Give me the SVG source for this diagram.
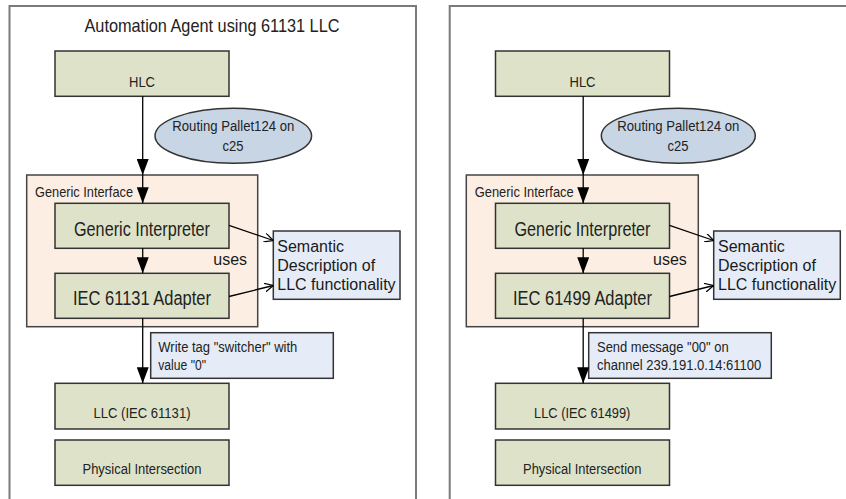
<svg xmlns="http://www.w3.org/2000/svg" width="846" height="499" viewBox="0 0 846 499">
  <style>
    .frame { fill: none; stroke: #7a7a7a; stroke-width: 2; }
    .block { fill: #dee2c9; stroke: #333; stroke-width: 1.5; }
    .iface { fill: #fdeee3; stroke: #444; stroke-width: 1.5; }
    .note { fill: #e5ecf7; stroke: #333; stroke-width: 1.5; }
    .oval { fill: #c8d5e5; stroke: #333; stroke-width: 1.5; }
    .t { font-family: "Liberation Sans", Arial, sans-serif; fill: #1a1a1a; }
    .n { font-family: "Liberation Sans", Arial, sans-serif; fill: #222; }
    .mid { text-anchor: middle; }
    .flow { fill: none; stroke: #000; stroke-width: 1.3; }
  </style>
  <defs>
    <marker id="solid" viewBox="0 0 16 12" refX="16" refY="6" markerWidth="16" markerHeight="12" markerUnits="userSpaceOnUse" orient="auto">
      <path d="M0,0 L16,6 L0,12 z" fill="#000"/>
    </marker>
    <marker id="open" viewBox="0 0 9 9" refX="9" refY="4.5" markerWidth="9" markerHeight="9" markerUnits="userSpaceOnUse" orient="auto">
      <path d="M0,0 L9,4.5 L0,9" fill="none" stroke="#000" stroke-width="1.2"/>
    </marker>
  </defs>

  <!-- panel frames -->
  <g id="frames">
    <path class="frame" d="M9.5,499 V6 H416 V499"/>
    <path class="frame" d="M449.7,499 V6 H846"/>
  </g>

  <g id="title-left">
    <text class="n mid" x="212" y="31.7" font-size="19" textLength="255" lengthAdjust="spacingAndGlyphs">Automation Agent using 61131 LLC</text>
  </g>

  <!-- left agent (61131) -->
  <g id="iface-left">
    <rect class="iface" x="26.7" y="175" width="231" height="151.7"/>
    <text class="n" x="35" y="197.3" font-size="15" textLength="98" lengthAdjust="spacingAndGlyphs">Generic Interface</text>
  </g>
  <g id="hlc-left">
    <rect class="block" x="55" y="51" width="174" height="45.3"/>
    <text class="n mid" x="142" y="86.7" font-size="15.5" textLength="26" lengthAdjust="spacingAndGlyphs">HLC</text>
  </g>
  <g id="goal-left">
    <ellipse class="oval" cx="233.3" cy="135.8" rx="78.3" ry="27.5"/>
    <text class="n mid" x="233.3" y="130.5" font-size="15.5" textLength="122" lengthAdjust="spacingAndGlyphs">Routing Pallet124 on</text>
    <text class="n mid" x="233" y="150.5" font-size="15.5" textLength="21" lengthAdjust="spacingAndGlyphs">c25</text>
  </g>
  <g id="interpreter-left">
    <rect class="block" x="55" y="203.3" width="174" height="45"/>
    <text class="n mid" x="142" y="236" font-size="19.5" textLength="136" lengthAdjust="spacingAndGlyphs">Generic Interpreter</text>
  </g>
  <g id="adapter-left">
    <rect class="block" x="55" y="273.3" width="174" height="45"/>
    <text class="n mid" x="142" y="305" font-size="19.5" textLength="138" lengthAdjust="spacingAndGlyphs">IEC 61131 Adapter</text>
  </g>
  <g id="semantic-left">
    <rect class="note" x="273.3" y="231" width="126.7" height="68.3"/>
    <text class="t" x="277.3" y="252" font-size="16">Semantic</text>
    <text class="t" x="277.3" y="271" font-size="16">Description of</text>
    <text class="t" x="277.3" y="289.5" font-size="16">LLC functionality</text>
  </g>
  <g id="uses-left">
    <text class="t" x="213.3" y="265" font-size="16">uses</text>
  </g>
  <g id="command-left">
    <rect class="note" x="150.7" y="332.7" width="182.6" height="45.6"/>
    <text class="n" x="158.3" y="351.5" font-size="15.5" textLength="139" lengthAdjust="spacingAndGlyphs">Write tag "switcher" with</text>
    <text class="n" x="158.3" y="370" font-size="15.5" textLength="47.7" lengthAdjust="spacingAndGlyphs">value "0"</text>
  </g>
  <g id="llc-left">
    <rect class="block" x="55" y="383.3" width="174" height="45.7"/>
    <text class="n mid" x="142" y="418" font-size="15.5" textLength="97" lengthAdjust="spacingAndGlyphs">LLC (IEC 61131)</text>
  </g>
  <g id="physical-left">
    <rect class="block" x="55" y="440" width="174" height="45.3"/>
    <text class="n mid" x="142" y="473.5" font-size="15.5" textLength="119" lengthAdjust="spacingAndGlyphs">Physical Intersection</text>
  </g>

  <!-- right agent (61499) -->
  <g id="iface-right">
    <rect class="iface" x="466.3" y="175" width="232" height="151.7"/>
    <text class="n" x="474.7" y="197.3" font-size="15" textLength="99" lengthAdjust="spacingAndGlyphs">Generic Interface</text>
  </g>
  <g id="hlc-right">
    <rect class="block" x="495.5" y="51" width="174" height="45.3"/>
    <text class="n mid" x="582.5" y="86.7" font-size="15.5" textLength="26" lengthAdjust="spacingAndGlyphs">HLC</text>
  </g>
  <g id="goal-right">
    <ellipse class="oval" cx="678.3" cy="135.8" rx="77" ry="27.5"/>
    <text class="n mid" x="678.3" y="130.5" font-size="15.5" textLength="122" lengthAdjust="spacingAndGlyphs">Routing Pallet124 on</text>
    <text class="n mid" x="678" y="150.5" font-size="15.5" textLength="21" lengthAdjust="spacingAndGlyphs">c25</text>
  </g>
  <g id="interpreter-right">
    <rect class="block" x="495.5" y="203.3" width="174" height="45"/>
    <text class="n mid" x="582.5" y="236" font-size="19.5" textLength="136" lengthAdjust="spacingAndGlyphs">Generic Interpreter</text>
  </g>
  <g id="adapter-right">
    <rect class="block" x="495.5" y="273.3" width="174" height="45"/>
    <text class="n mid" x="582.5" y="305" font-size="19.5" textLength="139" lengthAdjust="spacingAndGlyphs">IEC 61499 Adapter</text>
  </g>
  <g id="semantic-right">
    <rect class="note" x="713.7" y="231" width="126.6" height="68.3"/>
    <text class="t" x="718" y="252" font-size="16">Semantic</text>
    <text class="t" x="718" y="271" font-size="16">Description of</text>
    <text class="t" x="718" y="289.5" font-size="16">LLC functionality</text>
  </g>
  <g id="uses-right">
    <text class="t" x="653" y="265" font-size="16">uses</text>
  </g>
  <g id="command-right">
    <rect class="note" x="588.7" y="332.7" width="182.6" height="45.6"/>
    <text class="n" x="597" y="351.5" font-size="15.5" textLength="131.7" lengthAdjust="spacingAndGlyphs">Send message "00" on</text>
    <text class="n" x="597" y="370" font-size="15.5" textLength="164.3" lengthAdjust="spacingAndGlyphs">channel 239.191.0.14:61100</text>
  </g>
  <g id="llc-right">
    <rect class="block" x="495.5" y="383.3" width="174" height="45.7"/>
    <text class="n mid" x="582.2" y="418" font-size="15.5" textLength="96.3" lengthAdjust="spacingAndGlyphs">LLC (IEC 61499)</text>
  </g>
  <g id="physical-right">
    <rect class="block" x="495.5" y="440" width="174" height="45.3"/>
    <text class="n mid" x="582.2" y="473.5" font-size="15.5" textLength="118.3" lengthAdjust="spacingAndGlyphs">Physical Intersection</text>
  </g>

  <!-- connectors -->
  <g id="connectors">
    <line class="flow" x1="142.7" y1="96.3" x2="142.7" y2="175" marker-end="url(#solid)"/>
    <line class="flow" x1="142.7" y1="175" x2="142.7" y2="203.3" marker-end="url(#solid)"/>
    <line class="flow" x1="142.7" y1="248.3" x2="142.7" y2="273.3" marker-end="url(#solid)"/>
    <line class="flow" x1="142.7" y1="318.3" x2="142.7" y2="383.3" marker-end="url(#solid)"/>
    <line class="flow" x1="229" y1="225.3" x2="273.3" y2="240.5" marker-end="url(#open)"/>
    <line class="flow" x1="229" y1="296.5" x2="273.3" y2="285.5" marker-end="url(#open)"/>

    <line class="flow" x1="583.2" y1="96.3" x2="583.2" y2="175" marker-end="url(#solid)"/>
    <line class="flow" x1="583.2" y1="175" x2="583.2" y2="203.3" marker-end="url(#solid)"/>
    <line class="flow" x1="583.2" y1="248.3" x2="583.2" y2="273.3" marker-end="url(#solid)"/>
    <line class="flow" x1="583.2" y1="318.3" x2="583.2" y2="383.3" marker-end="url(#solid)"/>
    <line class="flow" x1="669.5" y1="225.3" x2="713.7" y2="240.5" marker-end="url(#open)"/>
    <line class="flow" x1="669.5" y1="296.5" x2="713.7" y2="285.5" marker-end="url(#open)"/>
  </g>
</svg>
